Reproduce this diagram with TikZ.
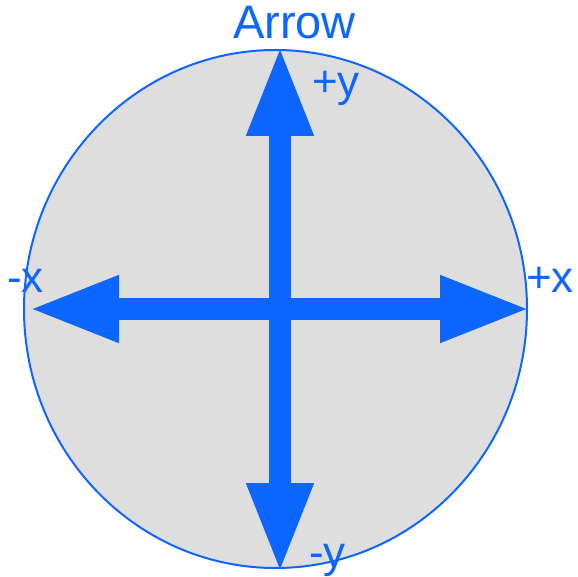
\documentclass[tikz,border=0pt]{standalone}
\usepackage{fontspec}
\setmainfont{Liberation Sans}
\usetikzlibrary{arrows.meta,shapes.geometric}
\definecolor{arrowblue}{RGB}{13,102,255}
\definecolor{discgrey}{RGB}{222,222,222}
\tikzset{
  disc/.style={ellipse, draw=arrowblue, fill=discgrey, line width=2pt, inner sep=0pt},
  bigarrow/.style={draw=arrowblue, fill=arrowblue, line width=21.7pt,
    {Triangle[length=91pt,width=61pt]}-{Triangle[length=91pt,width=61pt]}},
  lbl/.style={text=arrowblue, font=\fontsize{44}{44}\selectfont, inner sep=0pt, anchor=base west}
}
\begin{document}
\begin{tikzpicture}[x=1pt,y=-1pt]
\useasboundingbox (0,0) rectangle (578,577);
\node[disc, minimum width=503pt, minimum height=518pt] (circ) at (275.5,309) {};
\coordinate (top) at (280,45);
\coordinate (bot) at (280,574);
\coordinate (lft) at (28,309);
\coordinate (rgt) at (531,309);
\draw[bigarrow] (lft) -- (rgt);
\draw[bigarrow] (bot) -- (top);
\node[lbl, font=\fontsize{47}{47}\selectfont] (title) at (233,39) {Arrow};
\node[lbl] (py) at (312,97) {+y};
\node[lbl] (my) at (309,567) {-y};
\node[lbl] (mx) at (7,293) {-x};
\node[lbl] (px) at (526,293) {+x};
\end{tikzpicture}
\end{document}
